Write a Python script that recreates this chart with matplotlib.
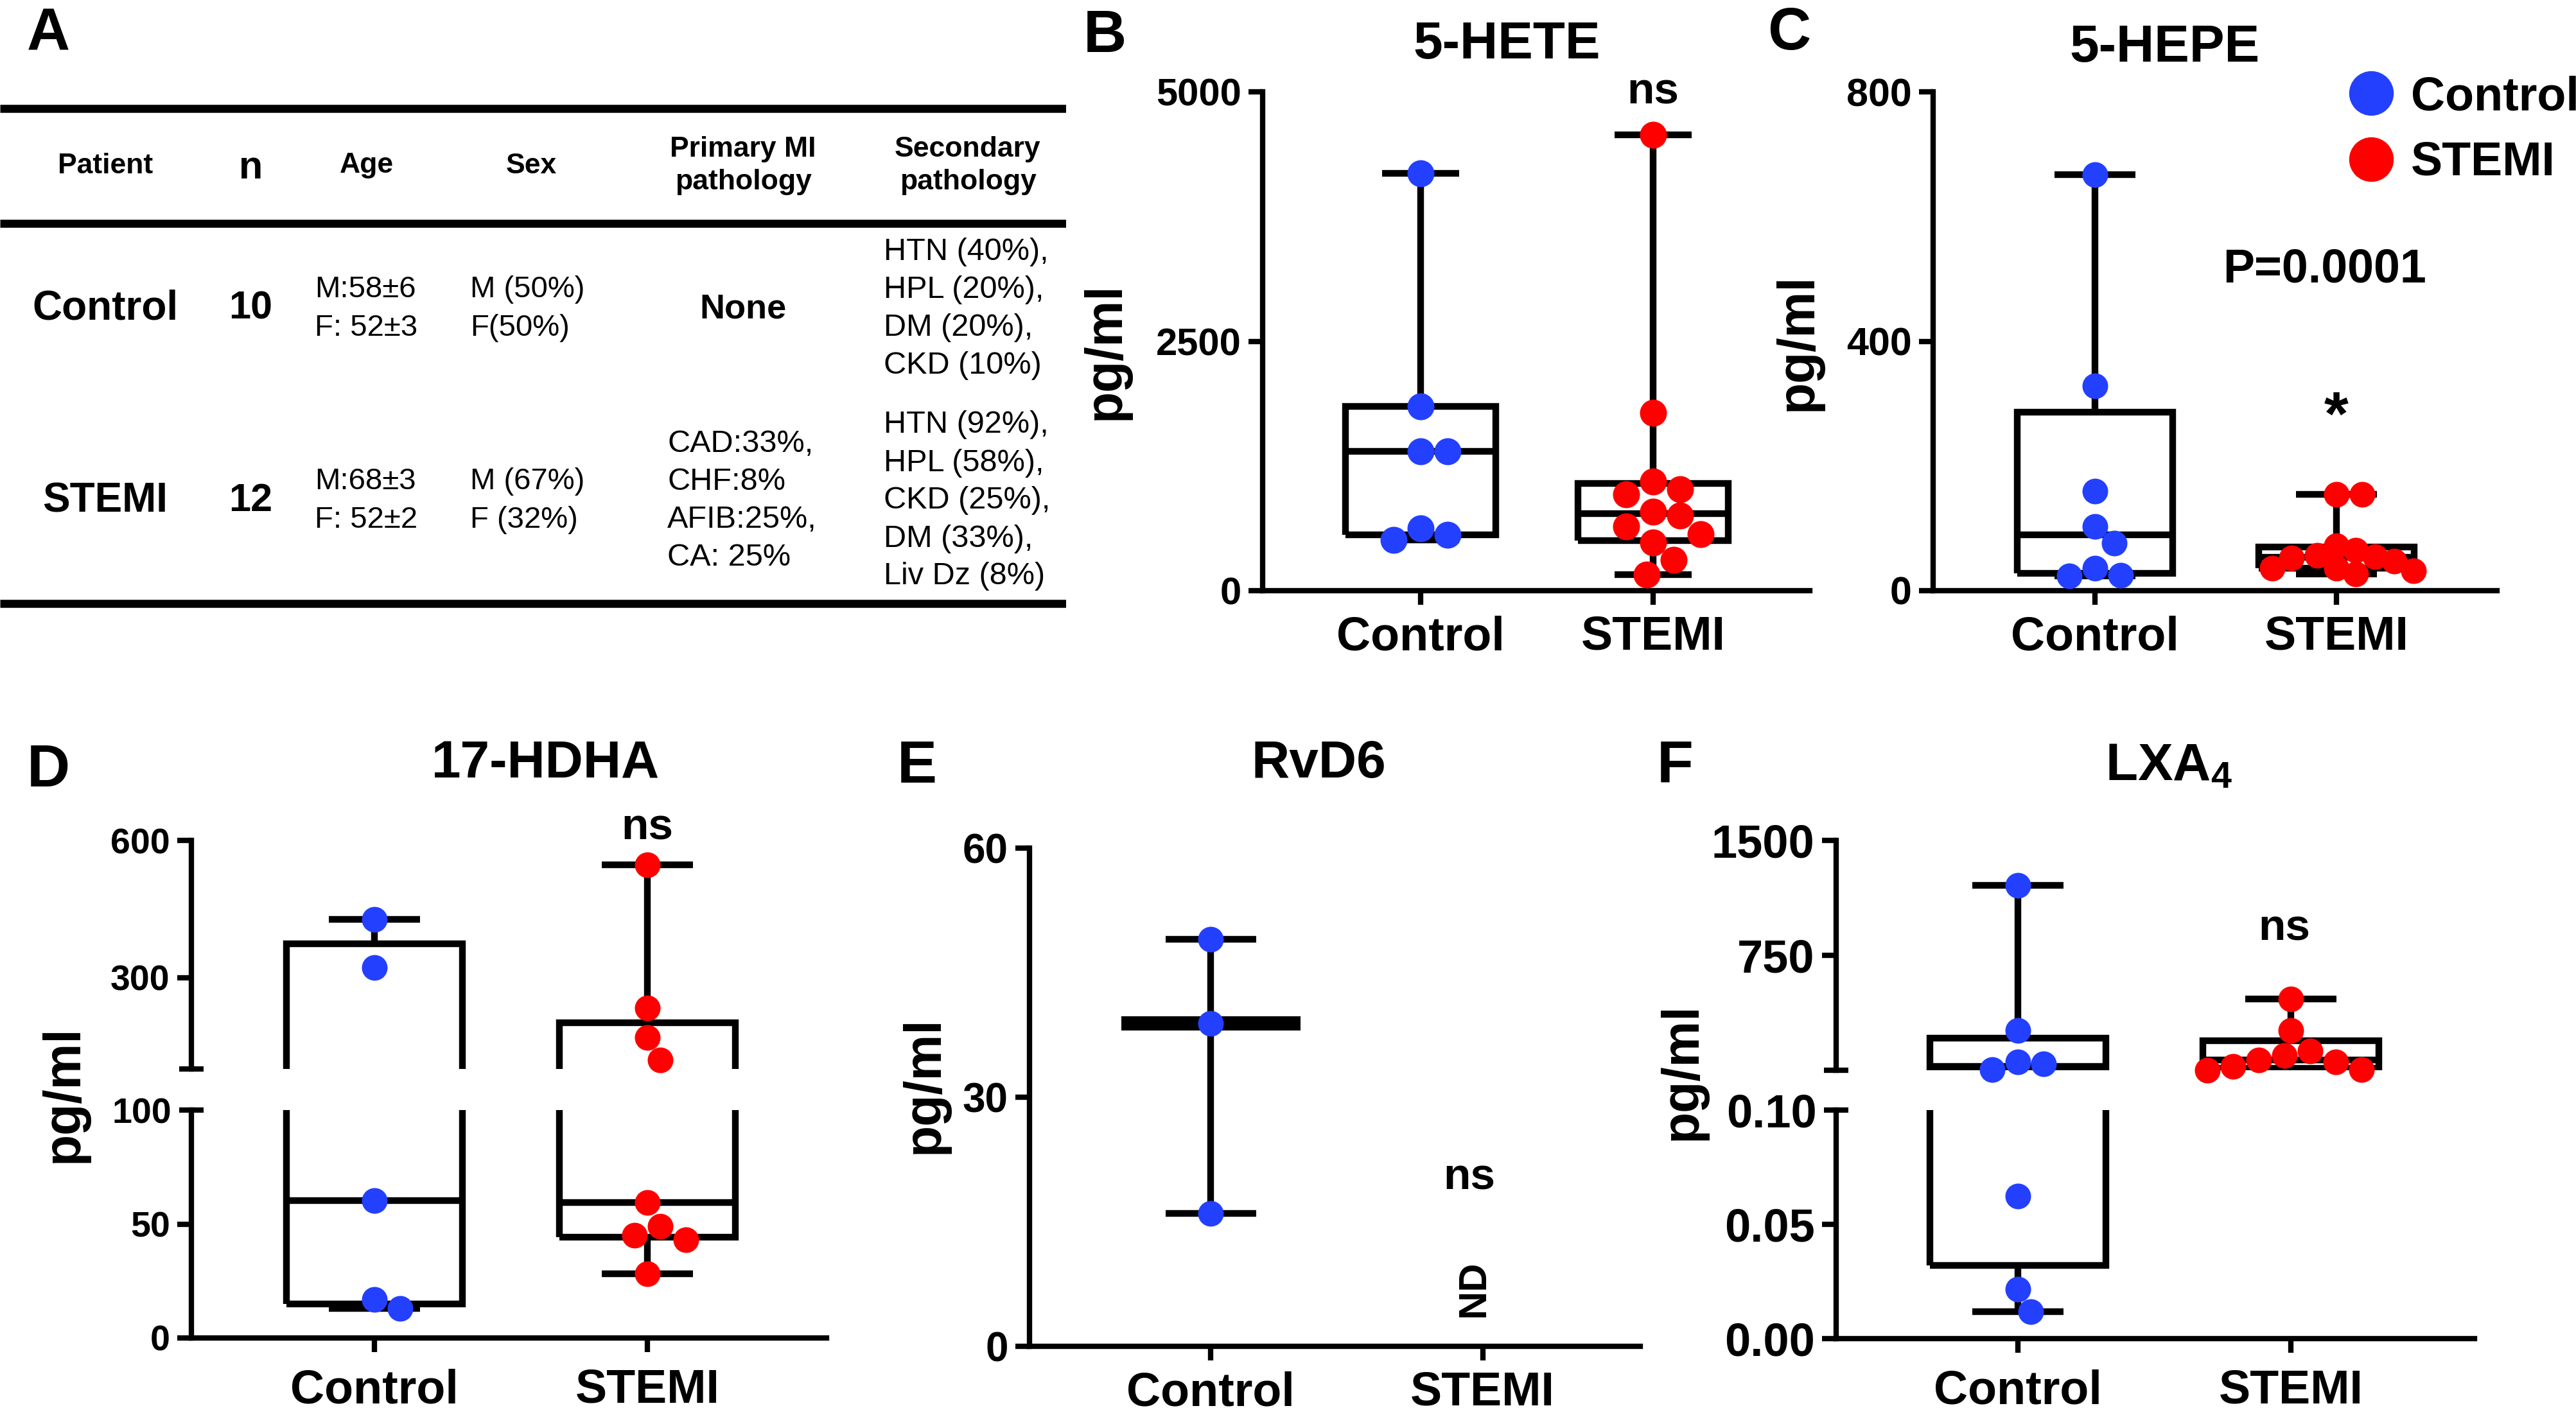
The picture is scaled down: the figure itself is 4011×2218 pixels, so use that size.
import numpy as np
import matplotlib.pyplot as plt
from matplotlib.lines import Line2D

plt.rcParams['font.family'] = ['Liberation Sans', 'DejaVu Sans']
plt.rcParams['font.weight'] = 'bold'
plt.rcParams['mathtext.fontset'] = 'custom'
plt.rcParams['mathtext.rm'] = 'Liberation Sans:bold'
plt.rcParams['mathtext.bf'] = 'Liberation Sans:bold'
plt.rcParams['mathtext.default'] = 'rm'

# values (pg/ml)
groups = ['Control', 'STEMI']

hete_control = [4185, 1845, 1395, 1395, 622, 558, 506]
hete_stemi = [4571, 1781, 1094, 1017, 966, 794, 751, 644, 567, 481, 309, 159]

hepe_control = [667, 328, 160, 103, 76, 36, 25, 24]
hepe_stemi = [154, 154, 72, 65, 57, 55, 52, 47, 36, 36, 32, 27]

hdha_control = [427, 322, 60.4, 16.8, 12.9]
hdha_stemi = [547, 233, 169, 120, 59.4, 49.1, 45.1, 43.2, 28.1]

rvd6_control = [49.0, 38.9, 16.0]

lxa4_control = [1205, 260, 53, 44, 5, 0.0625, 0.0217, 0.0118]
lxa4_stemi = [467, 260, 127, 97, 68, 53, 24, 4, 2]

# table A
table_header = ['Patient', 'n', 'Age', 'Sex', 'Primary MI\npathology', 'Secondary\npathology']
table_rows = [
    ['Control', '10', 'M:58±6\nF: 52±3', 'M (50%)\nF(50%)', 'None',
     'HTN (40%),\nHPL (20%),\nDM (20%),\nCKD (10%)'],
    ['STEMI', '12', 'M:68±3\nF: 52±2', 'M (67%)\nF (32%)', 'CAD:33%,\nCHF:8%\nAFIB:25%,\nCA: 25%',
     'HTN (92%),\nHPL (58%),\nCKD (25%),\nDM (33%),\nLiv Dz (8%)'],
]

BLUE = '#2340ff'
RED = '#ff0000'
LW = 7.5
SPINE = 6

W, H = 4012, 2218
fig = plt.figure(figsize=(W / 100, H / 100), dpi=100)


def px_ax(l, t, r, b):
    ax = fig.add_axes([l / W, 1 - b / H, (r - l) / W, (b - t) / H])
    ax.patch.set_visible(False)
    return ax


def ftext(x, y, s, **kw):
    fig.text(x / W, 1 - y / H, s, **kw)


def style(ax, ysize, bottom=True, xpad=12):
    ax.spines[['top', 'right']].set_visible(False)
    ax.spines['left'].set_linewidth(SPINE)
    ax.spines['bottom'].set_linewidth(SPINE)
    ax.spines['bottom'].set_visible(bottom)
    ax.tick_params(axis='y', which='both', width=SPINE, length=16, pad=8, labelsize=ysize)
    ax.tick_params(axis='y', which='minor', direction='inout', length=28)
    if bottom:
        ax.set_xticks([1, 2], groups)
        ax.tick_params(axis='x', width=SPINE, length=16, pad=xpad, labelsize=53)
    else:
        ax.set_xticks([])


def boxplot(ax, data, pos, width=0.645, capw=0.333, median_only=False):
    q1, med, q3 = np.percentile(data, [25, 50, 75], method='weibull')
    if median_only:
        q1 = q3 = med
    st = [dict(med=med, q1=q1, q3=q3, whislo=min(data), whishi=max(data), fliers=[])]
    line = dict(color='black', linewidth=LW, solid_joinstyle='miter', solid_capstyle='butt')
    medline = dict(line, linewidth=16 if median_only else LW)
    ax.bxp(st, positions=[pos], widths=width, capwidths=capw, showfliers=False,
           showbox=not median_only, boxprops=line, whiskerprops=line, capprops=line,
           medianprops=medline, manage_ticks=False)


def swarm(ax, pos, values, diam, pack):
    to_px = ax.transData.transform
    unit = to_px((1, 0))[0] - to_px((0, 0))[0]
    ys = to_px(np.column_stack([np.full(len(values), pos), values]))[:, 1]
    steps = sorted(np.arange(-16, 17) * diam / 4, key=lambda c: (abs(c), -c))
    placed, xs = [], np.empty(len(values))
    for i in np.argsort(-values, kind='stable'):
        for c in steps:
            if all(np.hypot(c - px, ys[i] - py) >= pack * diam for px, py in placed):
                break
        placed.append((c, ys[i]))
        xs[i] = pos + c / unit
    return xs


def dots(ax, values, pos, color, diam=40, pack=0.95):
    values = np.asarray(values, float)
    if len(values) == 0:
        return
    xs = swarm(ax, pos, values, diam, pack)
    ax.scatter(xs, values, s=(diam * 0.72) ** 2, color=color, linewidths=0,
               zorder=4, clip_on=False)


# ---------------- A: table ----------------
tab = px_ax(0, 0, 1660, 960)
tab.set_xlim(0, 1660)
tab.set_ylim(960, 0)
tab.axis('off')
for y in [169, 348, 940]:
    tab.plot([0, 1660], [y, y], color='black', lw=9, solid_capstyle='butt')
col_x = [164, 390, 571, 827, 1157, 1507]
for x, s in zip(col_x, table_header):
    if s == 'n':
        tab.text(x, 262, s, ha='center', va='center', fontsize=44)
    else:
        tab.text(x, 258, s, ha='center', va='center', fontsize=32, linespacing=1.3)
for y, row in zip([481, 780], table_rows):
    tab.text(164, y, row[0], ha='center', va='center', fontsize=46)
    tab.text(390, y, row[1], ha='center', va='center', fontsize=44)
    tab.text(490, y, row[2], ha='left', va='center', fontsize=34, weight='normal', linespacing=1.45)
    tab.text(732, y, row[3], ha='left', va='center', fontsize=34, weight='normal', linespacing=1.45)
    if row[4] == 'None':
        tab.text(1157, y, row[4], ha='center', va='center', fontsize=39)
    else:
        tab.text(1039, y, row[4], ha='left', va='center', fontsize=35, weight='normal', linespacing=1.4)
    tab.text(1376, y, row[5], ha='left', va='center', fontsize=35, weight='normal', linespacing=1.4)
ftext(75, 53, 'A', ha='center', va='center', fontsize=67)

# ---------------- B: 5-HETE ----------------
axB = px_ax(1966, 143, 2818, 920)
axB.set_xlim(0.320, 2.674)
axB.set_ylim(0, 5000)
axB.set_yticks([0, 2500, 5000])
style(axB, 43)
boxplot(axB, hete_control, 1)
boxplot(axB, hete_stemi, 2)
dots(axB, hete_control, 1, BLUE, 42)
dots(axB, hete_stemi, 2, RED, 42)
axB.text(2, 5000, 'ns', ha='center', va='center', fontsize=50)
ftext(1720, 57, 'B', ha='center', va='center', fontsize=67)
ftext(2346, 70, '5-HETE', ha='center', va='center', fontsize=59)
ftext(1722, 547, 'pg/ml', ha='center', va='center', rotation=90, fontsize=58)

# ---------------- C: 5-HEPE ----------------
axC = px_ax(3010, 143, 3888, 920)
axC.set_xlim(0.330, 2.665)
axC.set_ylim(0, 800)
axC.set_yticks([0, 400, 800])
style(axC, 44)
boxplot(axC, hepe_control, 1)
boxplot(axC, hepe_stemi, 2)
dots(axC, hepe_control, 1, BLUE)
dots(axC, hepe_stemi, 2, RED, pack=0.76)
axC.text(1.952, 515, 'P=0.0001', ha='center', va='center', fontsize=53)
axC.text(2, 250, '*', ha='center', va='baseline', fontsize=70)
ftext(2786, 53, 'C', ha='center', va='center', fontsize=67)
ftext(3371, 75, '5-HEPE', ha='center', va='center', fontsize=59)
ftext(2800, 533, 'pg/ml', ha='center', va='center', rotation=90, fontsize=58)
handles = [Line2D([], [], ls='', marker='o', ms=50, color=c, markeredgewidth=0) for c in (BLUE, RED)]
fig.legend(handles, groups, loc='upper left', bbox_to_anchor=(3655 / W, 1 - 117 / H),
           frameon=False, fontsize=53, handlelength=1, handletextpad=0.35,
           labelspacing=0.46, borderpad=0, borderaxespad=0)

# ---------------- D: 17-HDHA (broken axis) ----------------
axDu = px_ax(298, 1309, 1287, 1665)
axDl = px_ax(298, 1729, 1287, 2084)
for ax, lim in ((axDu, (100, 600)), (axDl, (0, 100))):
    ax.set_xlim(0.329, 2.656)
    ax.set_ylim(*lim)
axDu.set_yticks([300, 600], ['300', '600'])
axDu.set_yticks([100], [''], minor=True)
axDl.set_yticks([0, 50], ['0', '50'])
axDl.set_yticks([100], ['100'], minor=True)
style(axDu, 40, bottom=False)
style(axDl, 40, xpad=18)
for ax in (axDu, axDl):
    boxplot(ax, hdha_control, 1)
    boxplot(ax, hdha_stemi, 2)
for ax, keep in ((axDu, lambda v: v >= 100), (axDl, lambda v: v < 100)):
    dots(ax, [v for v in hdha_control if keep(v)], 1, BLUE)
    dots(ax, [v for v in hdha_stemi if keep(v)], 2, RED)
axDu.text(2, 628, 'ns', ha='center', va='center', fontsize=50)
ftext(75, 1201, 'D', ha='center', va='center', fontsize=67)
ftext(850, 1190, '17-HDHA', ha='center', va='center', fontsize=59)
ftext(100, 1704, 'pg/ml', ha='center', va='center', rotation=90, fontsize=58)

# ---------------- E: RvD6 ----------------
axE = px_ax(1603, 1321, 2554, 2097)
axE.set_xlim(0.333, 2.58)
axE.set_ylim(0, 60)
axE.set_yticks([0, 30, 60])
style(axE, 46)
boxplot(axE, rvd6_control, 1, width=0.66, median_only=True)
dots(axE, rvd6_control, 1, BLUE)
axE.text(1.95, 20.3, 'ns', ha='center', va='center', fontsize=50)
axE.text(1.97, 7.0, 'ND', ha='center', va='center', rotation=90, fontsize=44)
ftext(1428, 1195, 'E', ha='center', va='center', fontsize=67)
ftext(2053, 1190, 'RvD6', ha='center', va='center', fontsize=59)
ftext(1440, 1690, 'pg/ml', ha='center', va='center', rotation=90, fontsize=58)

# ---------------- F: LXA4 (broken axis) ----------------
axFu = px_ax(2859, 1309, 3853, 1667)
axFl = px_ax(2859, 1729, 3853, 2085)
for ax, lim in ((axFu, (0.1, 1500)), (axFl, (0, 0.1))):
    ax.set_xlim(0.334, 2.673)
    ax.set_ylim(*lim)
axFu.set_yticks([750, 1500], ['750', '1500'])
axFu.set_yticks([0.1], [''], minor=True)
axFl.set_yticks([0, 0.05], ['0.00', '0.05'])
axFl.set_yticks([0.1], ['0.10'], minor=True)
style(axFu, 52, bottom=False)
style(axFl, 52, xpad=18)
for ax in (axFu, axFl):
    boxplot(ax, lxa4_control, 1)
    boxplot(ax, lxa4_stemi, 2)
for ax, keep in ((axFu, lambda v: v >= 0.1), (axFl, lambda v: v < 0.1)):
    dots(ax, [v for v in lxa4_control if keep(v)], 1, BLUE)
    dots(ax, [v for v in lxa4_stemi if keep(v)], 2, RED)
axFu.text(1.976, 922, 'ns', ha='center', va='center', fontsize=50)
ftext(2608, 1194, 'F', ha='center', va='center', fontsize=67)
ftext(3377, 1194, r'LXA$_{4}$', ha='center', va='center', fontsize=59)
ftext(2620, 1669, 'pg/ml', ha='center', va='center', rotation=90, fontsize=58)

fig.savefig('out.png', dpi=100)
